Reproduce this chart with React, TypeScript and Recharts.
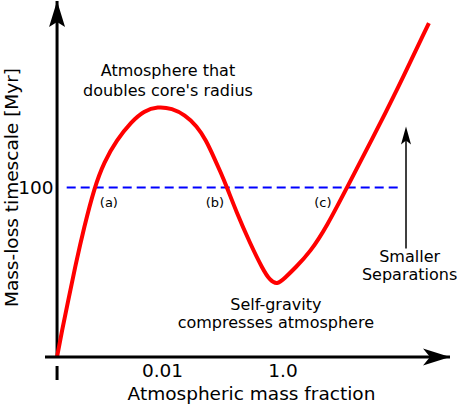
import React from 'react';
import {
  LineChart,
  Line,
  XAxis,
  YAxis,
  ReferenceLine,
  ReferenceDot,
} from 'recharts';

// schematic curve: x = log10(atmospheric mass fraction), y = mass-loss timescale
const massFractionLog = [
  -3.75, -3.67, -3.57, -3.44, -3.3, -3.13, -2.97, -2.76, -2.52, -2.31, -2.08,
  -1.84, -1.63, -1.43, -1.28, -1.15, -1.03, -0.93, -0.78, -0.55, -0.33, -0.22,
  -0.1, 0.03, 0.2, 0.45, 0.73, 1.06, 1.48, 1.89, 2.42,
];
const lossTimescale = [
  0, 15.3, 32.4, 54.9, 76.7, 100, 115, 128, 138.6, 145.1, 147.8,
  146.6, 142.8, 136.3, 128, 118, 108.5, 100, 86.1, 67.2, 51.3, 45.4,
  42.5, 46.6, 52.5, 61.9, 77.3, 100, 128.6, 157.5, 197,
];

const xTickValues = [-3.75, -2, 0];
const xTickLabels = ['', '0.01', '1.0'];
const yTickValues = [100];
const yTickLabels = ['100'];

const thresholdMyr = 100;
const originX = -3.75;
const xDomain: [number, number] = [-3.95, 2.77];
const yDomain: [number, number] = [0, 210];

const curve = massFractionLog.map((x, i) => ({ x, t: lossTimescale[i] }));

const FONT = '"DejaVu Sans", Verdana, sans-serif';

const XTick = (props: any) => {
  const { x, y, payload } = props;
  const i = xTickValues.indexOf(payload.value);
  if (i === 0) {
    return <line x1={x} x2={x} y1={y + 9} y2={y + 23} stroke="#000" strokeWidth={3} />;
  }
  return (
    <text x={x} y={y + 19.5} textAnchor="middle" fontSize={18.5} fontFamily={FONT} fill="#000">
      {xTickLabels[i]}
    </text>
  );
};

const YTick = (props: any) => {
  const { x, y, payload } = props;
  const i = yTickValues.indexOf(payload.value);
  return (
    <text x={x + 8.5} y={y} dy="0.36em" textAnchor="end" fontSize={18.5} fontFamily={FONT} fill="#000">
      {yTickLabels[i]}
    </text>
  );
};

const YTitle = (props: any) => {
  const vb = props.viewBox;
  const cx = vb.x + 17.5;
  const cy = vb.y + vb.height / 2 + 8.5;
  return (
    <text
      x={cx}
      y={cy}
      transform={`rotate(-90 ${cx} ${cy})`}
      textAnchor="middle"
      fontSize={18.5}
      fontFamily={FONT}
      fill="#000"
    >
      Mass-loss timescale [Myr]
    </text>
  );
};

const XTitle = (props: any) => {
  const vb = props.viewBox;
  const cx = vb.x + vb.width / 2 + 4;
  return (
    <text x={cx} y={vb.y + 43} textAnchor="middle" fontSize={18.5} fontFamily={FONT} fill="#000">
      Atmospheric mass fraction
    </text>
  );
};

const arrowUp = (len: number, half: number, notch: number) => (p: any) => (
  <path
    d={`M${p.cx},${p.cy} L${p.cx + half},${p.cy + len} L${p.cx},${p.cy + notch} L${p.cx - half},${p.cy + len} Z`}
    fill="#000"
  />
);

const arrowRight = (p: any) => (
  <path
    d={`M${p.cx},${p.cy} L${p.cx - 27},${p.cy - 8.5} L${p.cx - 20},${p.cy} L${p.cx - 27},${p.cy + 8.5} Z`}
    fill="#000"
  />
);

const note = (lines: string[], size: number, lineHeight: number) => (p: any) => (
  <text x={p.cx} y={p.cy} textAnchor="middle" fontSize={size} fontFamily={FONT} fill="#000">
    {lines.map((l, i) => (
      <tspan key={i} x={p.cx} dy={i === 0 ? 0 : lineHeight}>
        {l}
      </tspan>
    ))}
  </text>
);

export default function App() {
  return (
    <div style={{ position: 'absolute', left: 0, top: 0, background: '#fff' }}>
      <LineChart
        width={457}
        height={411}
        data={curve}
        margin={{ top: 1, right: 7, bottom: 0, left: 0 }}
      >
        <XAxis
          type="number"
          dataKey="x"
          domain={xDomain}
          ticks={xTickValues}
          interval={0}
          allowDataOverflow
          height={54}
          tickSize={0}
          tickMargin={0}
          tickLine={false}
          axisLine={{ stroke: '#000', strokeWidth: 3 }}
          tick={<XTick />}
          label={XTitle}
        />
        <YAxis
          type="number"
          domain={yDomain}
          ticks={yTickValues}
          interval={0}
          allowDataOverflow
          width={45}
          tickSize={0}
          tickMargin={0}
          tickLine={false}
          axisLine={false}
          tick={<YTick />}
          label={YTitle}
        />
        <ReferenceLine x={originX} stroke="#000" strokeWidth={3} />
        <ReferenceDot x={originX} y={yDomain[1]} shape={arrowUp(26, 8, 21)} />
        <ReferenceDot x={xDomain[1]} y={0} shape={arrowRight} />
        <ReferenceLine
          segment={[
            { x: -3.59, y: thresholdMyr },
            { x: 1.94, y: thresholdMyr },
          ]}
          stroke="#0000ff"
          strokeWidth={2.2}
          strokeDasharray="9 5"
        />
        <Line
          type="basis"
          dataKey="t"
          stroke="#ff0000"
          strokeWidth={4}
          dot={false}
          isAnimationActive={false}
        />
        <ReferenceLine
          segment={[
            { x: 2.04, y: 64 },
            { x: 2.04, y: 128 },
          ]}
          stroke="#000"
          strokeWidth={1.5}
        />
        <ReferenceDot x={2.04} y={136} shape={arrowUp(18, 5, 14)} />
        <ReferenceDot x={-1.91} y={166} shape={note(['Atmosphere that', "doubles core's radius"], 16, 20)} />
        <ReferenceDot x={-2.89} y={88.5} shape={note(['(a)'], 13, 0)} />
        <ReferenceDot x={-1.13} y={88.5} shape={note(['(b)'], 13, 0)} />
        <ReferenceDot x={0.66} y={88.5} shape={note(['(c)'], 13, 0)} />
        <ReferenceDot x={-0.12} y={27.5} shape={note(['Self-gravity', 'compresses atmosphere'], 16, 18)} />
        <ReferenceDot x={2.1} y={56} shape={note(['Smaller', 'Separations'], 16, 18)} />
      </LineChart>
    </div>
  );
}
